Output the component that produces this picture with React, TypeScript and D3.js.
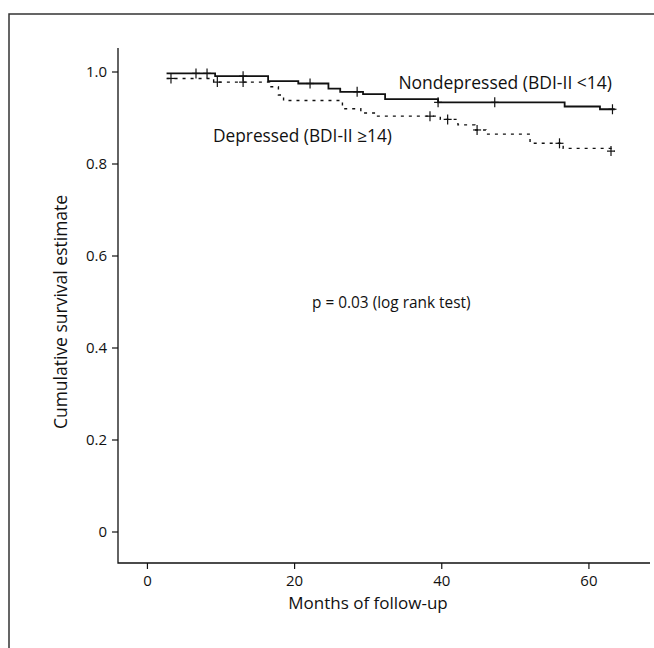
import React from 'react';
import * as d3 from 'd3';

// Kaplan-Meier step points (month, survival)
const nondepTimes = [2.6, 9.2, 16.4, 20.5, 24.6, 26.2, 29.3, 32.3, 39.5, 56.7, 61.5, 63.5];
const nondepSurv = [0.997, 0.991, 0.98, 0.975, 0.964, 0.957, 0.952, 0.941, 0.934, 0.925, 0.919, 0.919];
const nondepCensor = [6.6, 8.1, 13.0, 22.1, 28.5, 39.5, 47.2, 63.2];

const depTimes = [2.6, 9.0, 16.6, 17.8, 18.5, 26.5, 29.0, 31.0, 39.8, 42.2, 44.5, 46.0, 52.0, 56.5, 63.0, 63.5];
const depSurv = [0.986, 0.978, 0.968, 0.95, 0.938, 0.92, 0.911, 0.904, 0.897, 0.885, 0.874, 0.865, 0.845, 0.834, 0.828, 0.828];
const depCensor = [3.2, 9.5, 13.0, 38.4, 40.8, 44.8, 56.0, 63.0];

const xTicks = [0, 20, 40, 60];
const yTicks = [0, 0.2, 0.4, 0.6, 0.8, 1.0];
const yTickLabels = ['0', '0.2', '0.4', '0.6', '0.8', '1.0'];

const W = 654;
const H = 648;
const font = '"Open Sans", "DejaVu Sans", sans-serif';

const x = d3.scaleLinear().domain([-4, 68.3]).range([118, 650]);
const y = d3.scaleLinear().domain([0, 1]).range([532, 72]);

type Pt = [number, number];

const stepLine = d3
  .line<Pt>()
  .x(d => x(d[0]))
  .y(d => y(d[1]))
  .curve(d3.curveStepAfter);

const survAt = (times: number[], surv: number[], t: number) => {
  let s = surv[0];
  times.forEach((tt, i) => {
    if (tt <= t) s = surv[i];
  });
  return s;
};

const Curve = ({ times, surv, censor, dashed }: { times: number[]; surv: number[]; censor: number[]; dashed?: boolean }) => {
  const pts: Pt[] = times.map((t, i) => [t, surv[i]]);
  return (
    <g>
      <path
        d={stepLine(pts) || ''}
        fill="none"
        stroke="#111"
        strokeWidth={dashed ? 1.4 : 1.8}
        strokeDasharray={dashed ? '3,5' : undefined}
      />
      {censor.map((c, i) => {
        const cx = x(c);
        const cy = y(survAt(times, surv, c));
        return (
          <g key={i} stroke="#111" strokeWidth={1.2}>
            <line x1={cx} x2={cx} y1={cy - 5} y2={cy + 5} />
            <line x1={cx - 4} x2={cx + 4} y1={cy} y2={cy} />
          </g>
        );
      })}
    </g>
  );
};

export default function App() {
  const yTop = y.invert(48);
  const yBottom = 563;
  return (
    <svg width={W} height={H} style={{ position: 'absolute', left: 0, top: 0, background: '#fff' }} fontFamily={font}>
      {/* figure frame */}
      <path d={`M9,${H} V14 H${W}`} fill="none" stroke="#333" strokeWidth={1.5} />

      {/* axes */}
      <path d={`M${x.range()[0]},${y(yTop)} V${yBottom} H${x.range()[1]}`} fill="none" stroke="#111" strokeWidth={1.3} />
      {yTicks.map((t, i) => (
        <g key={t}>
          <line x1={118} x2={112} y1={y(t)} y2={y(t)} stroke="#111" strokeWidth={1.2} />
          <text x={107} y={y(t) + 5} textAnchor="end" fontSize={15} fill="#111">
            {yTickLabels[i]}
          </text>
        </g>
      ))}
      {xTicks.map(t => (
        <g key={t}>
          <line x1={x(t)} x2={x(t)} y1={yBottom} y2={yBottom + 6} stroke="#111" strokeWidth={1.2} />
          <text x={x(t)} y={yBottom + 23} textAnchor="middle" fontSize={15} fill="#111">
            {t}
          </text>
        </g>
      ))}
      <text x={368} y={609} textAnchor="middle" fontSize={17} fill="#111">
        Months of follow-up
      </text>
      <text transform={`translate(67,${y(0.5) + 10}) rotate(-90)`} textAnchor="middle" fontSize={17.5} fill="#111">
        Cumulative survival estimate
      </text>

      <Curve times={nondepTimes} surv={nondepSurv} censor={nondepCensor} />
      <Curve times={depTimes} surv={depSurv} censor={depCensor} dashed />

      <text x={612} y={89} textAnchor="end" fontSize={17.5} fill="#111">
        Nondepressed (BDI-II &lt;14)
      </text>
      <text x={213} y={142} fontSize={17.3} fill="#111">
        Depressed (BDI-II ≥14)
      </text>
      <text x={312} y={308} fontSize={15.4} fill="#111">
        p = 0.03 (log rank test)
      </text>
    </svg>
  );
}
